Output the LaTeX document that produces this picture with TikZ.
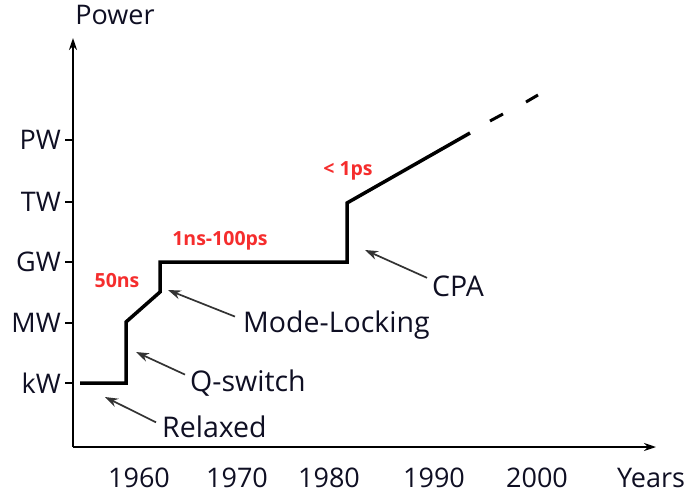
\documentclass[tikz,border=0pt]{standalone}
\usepackage{fontspec}
\setmainfont{Open Sans}
\usetikzlibrary{positioning,arrows.meta}
\definecolor{cDur}{RGB}{245,45,45}
\definecolor{cInk}{RGB}{15,15,35}

\begin{document}
\begin{tikzpicture}[x=1pt, y=-1pt,
  lbl/.style={font=\fontsize{27}{30}\selectfont, text=cInk, inner sep=0pt},
  wide/.style={font=\fontsize{28.5}{32}\selectfont},
  dur/.style={font=\fontsize{19.5}{22}\selectfont\bfseries, text=cDur, inner sep=0pt},
  axis/.style={line width=2pt, -{Stealth[length=12pt, width=8pt]}},
  tick/.style={line width=1.5pt},
  power/.style={line width=3.5pt, line join=miter},
  arr/.style={-{Stealth[length=13pt, width=9pt]}, line width=1.7pt, black!80},
]
\useasboundingbox (0,0) rectangle (685,498);

% Axes.
\coordinate (O) at (73,447);
\coordinate (ytop) at (73,38);
\coordinate (xend) at (656,447);
\draw[axis] (O) -- (ytop);
\draw[axis] (O) -- (xend);
\node[lbl] (power) at (115,15) {Power};
\node[lbl] (years) at (651,478) {Years};

\foreach \y/\name in {383/kW,323/MW,262/GW,202/TW,140/PW} {
  \draw[tick] (65,\y) -- (73,\y);
  \node[lbl, anchor=east] (tick\name) at (61,\y) {\name};
}
\foreach \x/\yr in {139/1960,237/1970,329/1980,434/1990,537/2000}
  \node[lbl] (yr\yr) at (\x,478) {\yr};

% Peak power curve.
\coordinate (relax) at (80,383);
\coordinate (qs) at (126,383);
\coordinate (ml) at (160,292);
\coordinate (cpa0) at (347,262);
\coordinate (cpa1) at (347,203);
\coordinate (now) at (470,133);
\draw[power] (relax) -- (qs) -- (126,322) -- (ml) -- (160,262) -- (cpa0)
  -- (cpa1) -- (now);
\draw[power, line width=3pt] (490,121) -- (503,114);
\draw[power, line width=3pt] (526,102) -- (538,95);

% Pulse durations.
\node[dur] (d50ns) at (117,281) {50ns};
\node[dur] (d1ns) at (220,241) {1ns-100ps};
\node[dur] (d1ps) at (348,171) {< 1ps};

% Techniques.
\node[lbl, wide, anchor=base west] (relaxed) at (162,437) {Relaxed};
\node[lbl, wide, anchor=base west] (qswitch) at (190,391) {Q-switch};
\node[lbl, wide, anchor=base west] (modelock) at (243,332) {Mode-Locking};
\node[lbl, wide, anchor=base west] (cpa) at (432,296) {CPA};

\coordinate (tRelax) at (105,397);
\coordinate (tQs) at (136,352);
\coordinate (tMl) at (168,290);
\coordinate (tCpa) at (365,250);
\draw[arr] ([shift={(-6pt,4pt)}]relaxed.west) -- (tRelax);
\draw[arr] ([shift={(-5pt,8pt)}]qswitch.west) -- (tQs);
\draw[arr] ([shift={(-8pt,8pt)}]modelock.west) -- (tMl);
\draw[arr] ([shift={(-5pt,8pt)}]cpa.west) -- (tCpa);

\end{tikzpicture}
\end{document}
